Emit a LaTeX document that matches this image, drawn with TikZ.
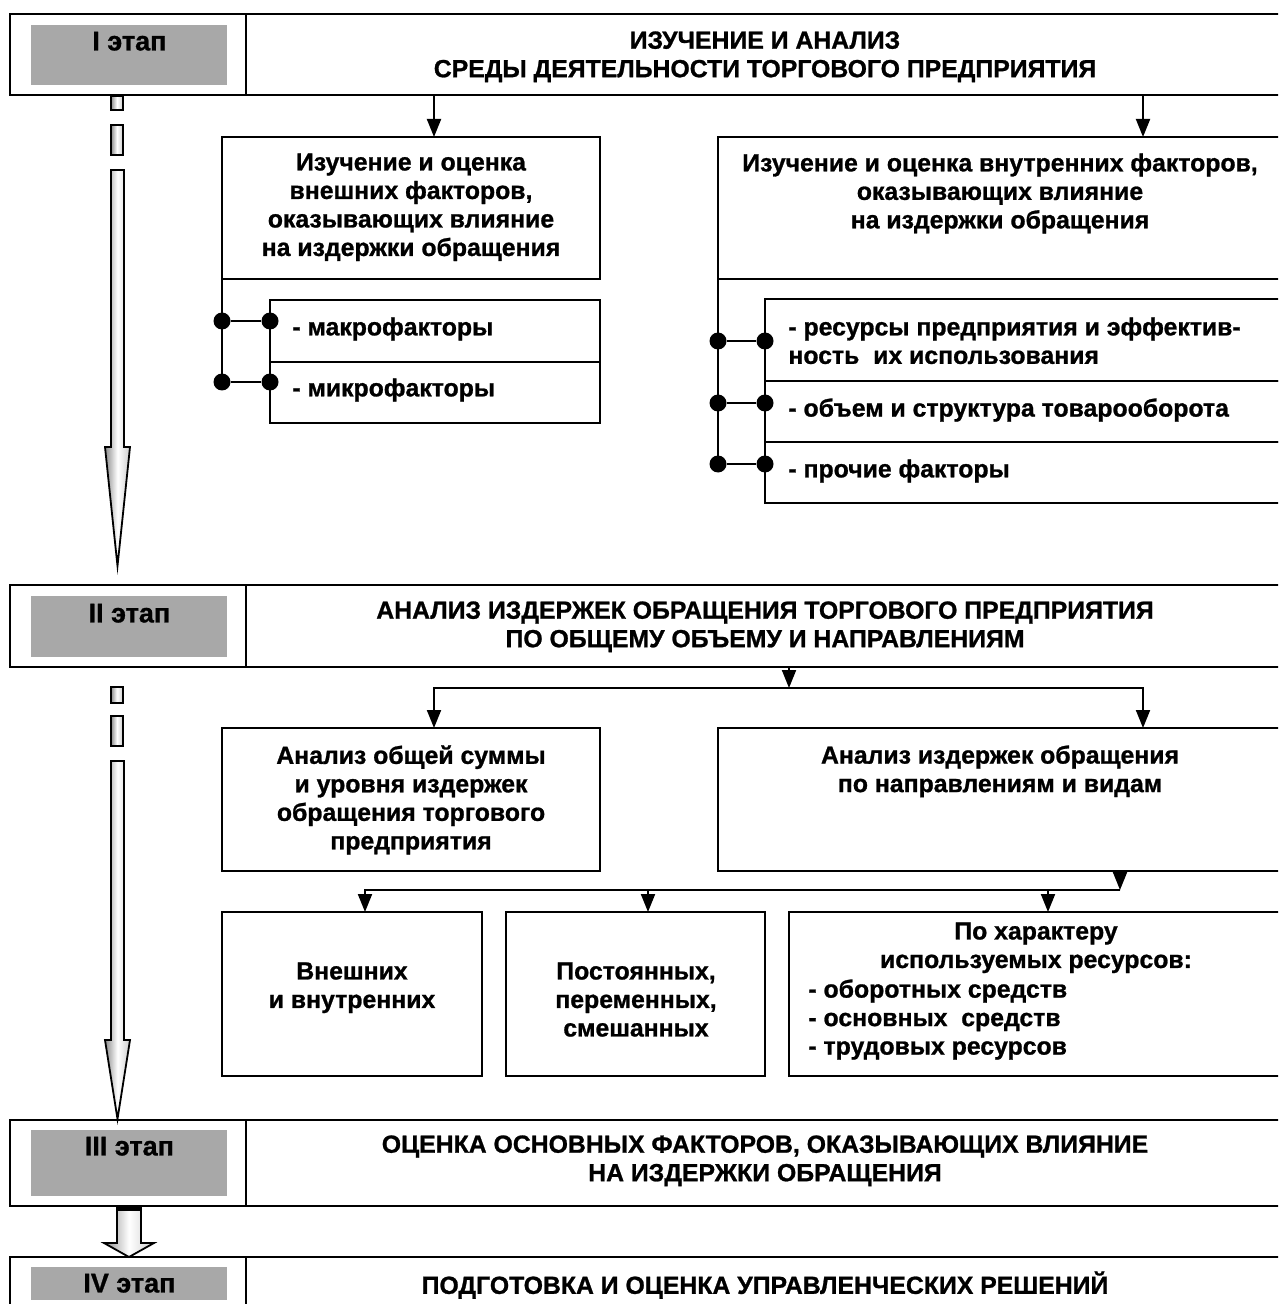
\documentclass[tikz,border=0pt]{standalone}
\usepackage{fontspec}
\setmainfont{Liberation Sans}[BoldFeatures={FakeBold=1}]
\usetikzlibrary{arrows.meta,calc}
\tikzset{
  box/.style={draw=black, line width=1.2pt, anchor=north west, inner sep=0pt, outer sep=0pt},
  greybox/.style={fill=black!34, anchor=north west, inner sep=0pt, minimum width=98pt, font=\bfseries\fontsize{13.5}{14}\selectfont},
  txt/.style={align=center, anchor=north, inner sep=0pt, font=\bfseries\fontsize{12.4}{14.25}\selectfont},
  ltxt/.style={txt, align=left, anchor=north west},
  arrow/.style={-{Triangle[length=9pt,width=7pt]}, line width=1pt},
  link/.style={line width=1pt},
  dot/.style={circle, fill=black, minimum size=8.5pt, inner sep=0pt},
  bigarrow/.style={draw=black, line width=0.9pt, left color=black!45, right color=black!20, middle color=white}
}
\begin{document}
\begin{tikzpicture}[x=0.5pt, y=-0.5pt]
\useasboundingbox (0,0) rectangle (1278,1304);
\clip (0,0) rectangle (1278,1304);

% stages
\node[box, minimum width=636pt, minimum height=40.5pt] (st1) at (10,14) {};
\node[box, minimum width=636pt, minimum height=41pt] (st2) at (10,585) {};
\node[box, minimum width=636pt, minimum height=43pt] (st3) at (10,1120) {};
\node[box, minimum width=636pt, minimum height=40pt] (st4) at (10,1257) {};
\foreach \s in {st1,st2,st3,st4}
  \draw[line width=1.2pt] ($(\s.north west)+(236,0)$) -- ($(\s.south west)+(236,0)$);

\node[greybox, text height=12.5pt, text depth=17.5pt] (g1) at (31,25) {I этап};
\node[greybox, text height=13pt, text depth=17.5pt] (g2) at (31,596) {II этап};
\node[greybox, text height=12.5pt, text depth=20.5pt] (g3) at (31,1130) {III этап};
\node[greybox, text height=12.5pt, text depth=4pt] (g4) at (31,1267) {IV этап};

\node[txt] (t1) at (765,31) {ИЗУЧЕНИЕ И АНАЛИЗ\\СРЕДЫ ДЕЯТЕЛЬНОСТИ ТОРГОВОГО ПРЕДПРИЯТИЯ};
\node[txt] (t2) at (765,601) {АНАЛИЗ ИЗДЕРЖЕК ОБРАЩЕНИЯ ТОРГОВОГО ПРЕДПРИЯТИЯ\\ПО ОБЩЕМУ ОБЪЕМУ И НАПРАВЛЕНИЯМ};
\node[txt] (t3) at (765,1135) {ОЦЕНКА ОСНОВНЫХ ФАКТОРОВ, ОКАЗЫВАЮЩИХ ВЛИЯНИЕ\\НА ИЗДЕРЖКИ ОБРАЩЕНИЯ};
\node[txt] (t4) at (765,1271) {ПОДГОТОВКА И ОЦЕНКА УПРАВЛЕНЧЕСКИХ РЕШЕНИЙ};

% stage I
\node[box, minimum width=189pt, minimum height=71pt] (ext) at (222,137) {};
\node[box, minimum width=165pt, minimum height=31pt] (mac) at (270,300) {};
\node[box, minimum width=165pt, minimum height=30.5pt] (mic) at (270,362) {};
\node[box, minimum width=282pt, minimum height=71pt] (int) at (718,137) {};
\node[box, minimum width=258.5pt, minimum height=41pt] (res) at (765,299) {};
\node[box, minimum width=258.5pt, minimum height=30.5pt] (vol) at (765,381) {};
\node[box, minimum width=258.5pt, minimum height=30.5pt] (oth) at (765,442) {};

\node[txt] (text) at (411,153) {Изучение и оценка\\внешних факторов,\\оказывающих влияние\\на издержки обращения};
\node[txt] (tint) at (1000,153) {Изучение и оценка внутренних факторов,\\оказывающих влияние\\на издержки обращения};
\node[ltxt] (tmac) at (292,317) {- макрофакторы};
\node[ltxt] (tmic) at (292,378) {- микрофакторы};
\node[ltxt] (tres) at (788,317) {- ресурсы предприятия и эффектив-\\ность\ \ их использования};
\node[ltxt] (tvol) at (788,398) {- объем и структура товарооборота};
\node[ltxt] (toth) at (788,459) {- прочие факторы};

\coordinate (a1) at (434,137);
\coordinate (a2) at (1143,137);
\draw[arrow] (st1.south -| a1) -- (a1);
\draw[arrow] (st1.south -| a2) -- (a2);

\foreach \y/\n in {321/1,382/2} {
  \node[dot] (la\n) at (222,\y) {};
  \node[dot] (lb\n) at (270,\y) {};
  \draw[link] (la\n) -- (lb\n);
}
\draw[link] (ext.south west) -- (la2.center);
\foreach \y/\n in {341/1,403/2,464/3} {
  \node[dot] (ra\n) at (718,\y) {};
  \node[dot] (rb\n) at (765,\y) {};
  \draw[link] (ra\n) -- (rb\n);
}
\draw[link] (int.south west) -- (ra3.center);

% stage II
\node[box, minimum width=189pt, minimum height=71.5pt] (sum) at (222,728) {};
\node[box, minimum width=282pt, minimum height=71.5pt] (dir) at (718,728) {};
\node[box, minimum width=130pt, minimum height=82pt] (kin1) at (222,912) {};
\node[box, minimum width=129.5pt, minimum height=82pt] (kin2) at (506,912) {};
\node[box, minimum width=246.5pt, minimum height=82pt] (kin3) at (789,912) {};

\node[txt] (tsum) at (411,745) {Анализ общей суммы\\и уровня издержек\\обращения торгового\\предприятия};
\node[txt] (tdir) at (1000,745) {Анализ издержек обращения\\по направлениям и видам};
\node[txt] (tkin1) at (352,962) {Внешних\\и внутренних};
\node[txt] (tkin2) at (636,962) {Постоянных,\\переменных,\\смешанных};
\node[txt] (tkin3) at (1036,922) {По характеру\\используемых ресурсов:};
\node[ltxt] (tlist) at (808,979) {- оборотных средств\\- основных\ \ средств\\- трудовых ресурсов};

\coordinate (f2) at (789,688);
\coordinate (b1) at (434,728);
\coordinate (b2) at (1143,728);
\draw[arrow] (st2.south -| f2) -- (f2);
\draw[arrow] (f2) -| (b1);
\draw[arrow] (f2) -| (b2);

\coordinate (f3) at (1120,890);
\coordinate (c1) at (365,912);
\coordinate (c2) at (648,912);
\coordinate (c3) at (1048,912);
\draw[arrow] (dir.south -| f3) -- (f3);
\draw[arrow] (f3) -| (c1);
\draw[arrow] (f3) -| (c2);
\draw[arrow] (f3) -| (c3);

% stage arrows
\draw[bigarrow] (111,96) rectangle (123,110);
\draw[bigarrow] (111,125) rectangle (123,155);
\draw[bigarrow] (111,170) -- (111,447) -- (105,447) -- (117.5,566) -- (130,447) -- (124,447) -- (124,170) -- cycle;
\draw[bigarrow] (111,687) rectangle (123,703);
\draw[bigarrow] (111,716) rectangle (123,746);
\draw[bigarrow] (111,761) -- (111,1040) -- (105,1040) -- (117.5,1119) -- (130,1040) -- (124,1040) -- (124,761) -- cycle;
\draw[bigarrow] (117,1206) -- (117,1243) -- (104,1243) -- (129,1257) -- (154,1243) -- (141,1243) -- (141,1206) -- cycle;
\fill (117,1206) rectangle (141,1211);
\end{tikzpicture}
\end{document}
